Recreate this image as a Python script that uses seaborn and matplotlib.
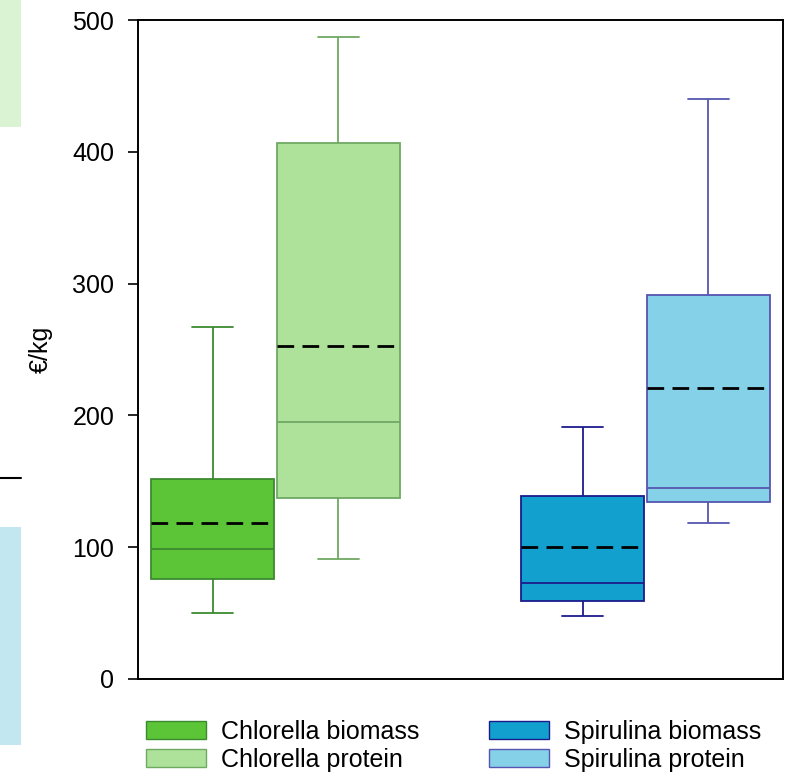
import pandas as pd
import matplotlib.pyplot as plt
import seaborn as sns
from matplotlib.patches import Patch, Rectangle
import warnings
warnings.filterwarnings(action='ignore')

# values (9 per box so quartiles, whiskers and means line up)
chlorella_biomass = [50, 60, 76, 85, 99, 110, 152, 163, 267]
chlorella_protein = [91, 120, 137, 160, 195, 260, 407, 420, 487]
spirulina_biomass = [48, 52, 59, 65, 73, 110, 139, 163, 191]
spirulina_protein = [118, 125, 134, 140, 145, 236, 291, 360, 440]

algae = ['Chlorella', 'Spirulina']
products = ['biomass', 'protein']
labels = ['Chlorella biomass', 'Chlorella protein', 'Spirulina biomass', 'Spirulina protein']
fills = ['#5cc437', '#aee29a', '#12a1cf', '#85d1e8']
edges = ['#3c8a30', '#6fa963', '#1b1b8c', '#5656b0']

groups = [('Chlorella', 'biomass', chlorella_biomass),
          ('Chlorella', 'protein', chlorella_protein),
          ('Spirulina', 'biomass', spirulina_biomass),
          ('Spirulina', 'protein', spirulina_protein)]

sns.set_theme(style='white', rc={'text.color': 'black', 'axes.labelcolor': 'black',
                                 'ytick.color': 'black'})
plt.rcParams['font.family'] = ['Liberation Sans', 'DejaVu Sans']

fig = plt.figure(figsize=(7.85, 7.75), dpi=100)
ax = fig.add_axes([138/785, 1-679/775, 645/785, 659/775])

for i, (alga, prod, vals) in enumerate(groups):
    df = pd.DataFrame({'alga': alga, 'product': prod, 'cost': vals})
    sns.boxplot(data=df, x='alga', y='cost', hue='product', order=algae, hue_order=products,
                palette={p: fills[i] for p in products}, saturation=1, dodge=True,
                linecolor=edges[i], linewidth=1.3,
                width=0.68, gap=0.02, whis=(0, 100), showfliers=False,
                showmeans=True, meanline=True,
                meanprops=dict(color='black', linestyle=(0, (6, 3)), linewidth=2),
                capwidths=0.11, legend=False, ax=ax)

ax.set_xlim(-0.372, 1.372)
ax.set_ylim(0, 500)
ax.set_yticks([0, 100, 200, 300, 400, 500])
ax.set_xticks([])
ax.set_xlabel('')
ax.set_ylabel('€/kg', fontsize=18, labelpad=14, color='black')
ax.tick_params(axis='y', left=True, direction='out', length=7, width=1.2, pad=10,
               labelsize=18, colors='black')
for s in ax.spines.values():
    s.set_color('black')
    s.set_linewidth(1.4)

handles = [Patch(facecolor=fills[i], edgecolor=edges[i], label=labels[i]) for i in range(4)]
fig.legend(handles=handles, loc='center', bbox_to_anchor=(0.578, 1-746/775), ncol=2,
           frameon=False, fontsize=18, handlelength=2.4, handleheight=0.72,
           handletextpad=0.6, columnspacing=2.8, labelspacing=0.15,
           borderpad=0, borderaxespad=0, labelcolor='black')

# bits of the neighbouring panel at the left edge
fig.patches.append(Rectangle((0, 1-127/775), 21/785, 127/775, transform=fig.transFigure,
                             facecolor='#d9f3d3', edgecolor='none'))
fig.patches.append(Rectangle((0, 1-745/775), 21/785, 218/775, transform=fig.transFigure,
                             facecolor='#c2e7f1', edgecolor='none'))
fig.lines.append(plt.Line2D([0, 21/785], [1-478/775, 1-478/775], transform=fig.transFigure,
                            color='black', linewidth=1.5))

plt.savefig('out.png', dpi=100)
